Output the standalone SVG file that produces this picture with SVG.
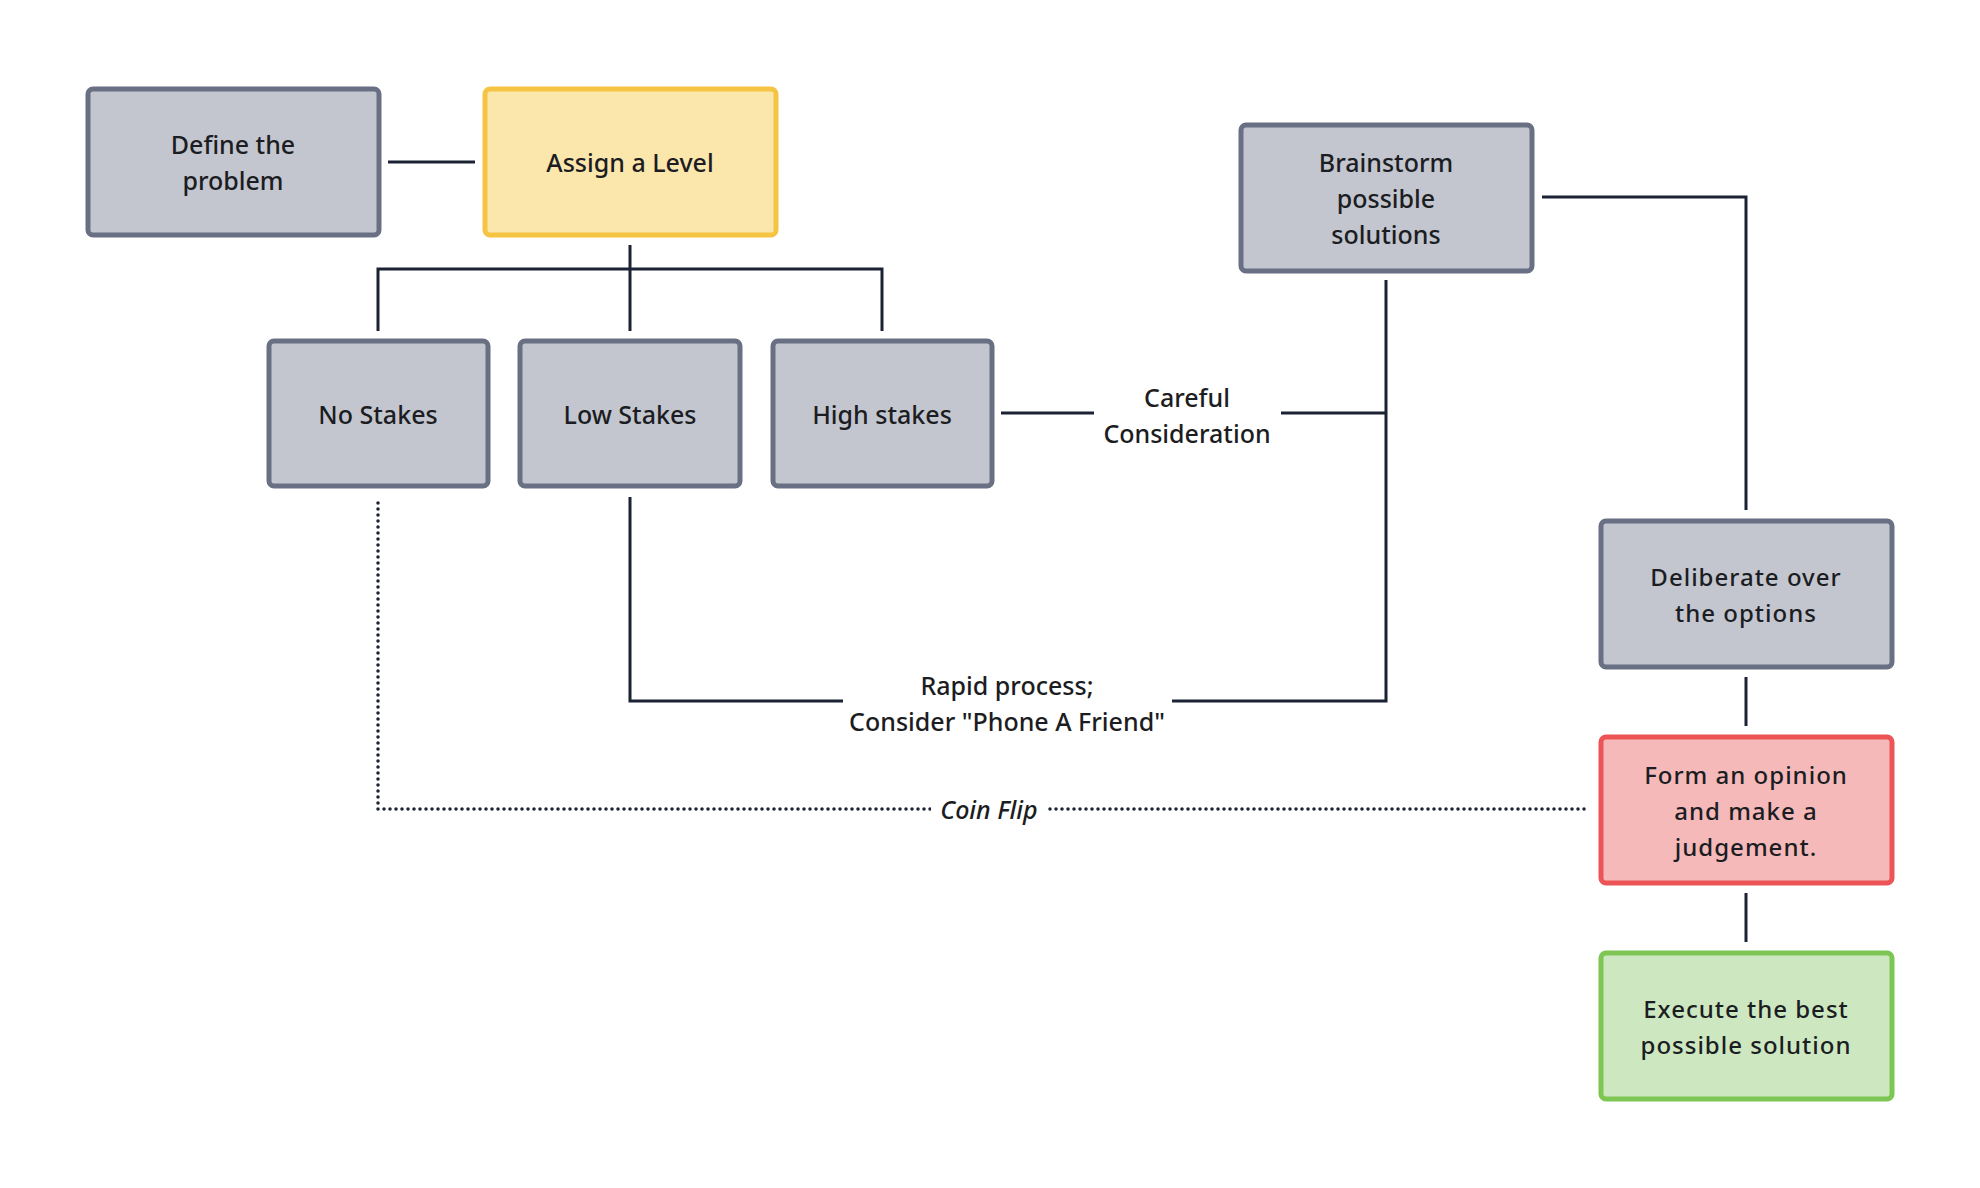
<svg xmlns="http://www.w3.org/2000/svg" width="1980" height="1188" viewBox="0 0 1980 1188">
<style>
.box{stroke-width:5}
.gray{fill:#c3c6cf;stroke:#6a7084}
.yellow{fill:#fbe6ac;stroke:#f6c443}
.red{fill:#f5b9ba;stroke:#ec5456}
.green{fill:#cde8c1;stroke:#7dc653}
.t{font-family:"Noto Sans","Open Sans",sans-serif;font-size:25px;font-weight:500;fill:#1b1d22;text-anchor:middle}
.t2{font-family:"Noto Sans","Open Sans",sans-serif;font-size:24px;font-weight:500;letter-spacing:1px;fill:#1b1d22;text-anchor:middle}
.c{fill:none;stroke:#1a2233;stroke-width:3}
.d{fill:none;stroke:#1a2233;stroke-width:3.5;stroke-dasharray:0 6;stroke-linecap:round}
.lbl{fill:#ffffff}
</style>
<rect width="1980" height="1188" fill="#ffffff"/>
<g id="connectors">
<path class="c" d="M388 162 H475"/>
<path class="c" d="M630 245 V331 M378 331 V269 H882 V331"/>
<path class="c" d="M1001 413 H1386"/>
<path class="c" d="M1386 280 V701 H630 V497"/>
<path class="c" d="M1542 197 H1746 V510"/>
<path class="c" d="M1746 677 V726"/>
<path class="c" d="M1746 893 V942"/>
<path class="d" d="M378 503 V809 H1586"/>
<g id="label-careful">
<rect class="lbl" x="1094" y="376" width="187" height="76"/>
<text class="t" x="1187" y="407">Careful</text>
<text class="t" x="1187" y="443">Consideration</text>
</g>
<g id="label-rapid">
<rect class="lbl" x="843" y="664" width="329" height="76"/>
<text class="t" x="1007" y="695">Rapid process;</text>
<text class="t" x="1007" y="731">Consider "Phone A Friend"</text>
</g>
<g id="label-coin">
<rect class="lbl" x="931" y="790" width="117" height="38"/>
<text class="t" x="989" y="819" font-style="italic">Coin Flip</text>
</g>
</g>
<g id="define">
<rect class="box gray" x="88" y="89" width="291" height="146" rx="5"/>
<text class="t" x="233" y="154">Define the</text>
<text class="t" x="233" y="190">problem</text>
</g>
<g id="assign">
<rect class="box yellow" x="485" y="89" width="291" height="146" rx="5"/>
<text class="t" x="630" y="172">Assign a Level</text>
</g>
<g id="nostakes">
<rect class="box gray" x="269" y="341" width="219" height="145" rx="5"/>
<text class="t" x="378" y="424">No Stakes</text>
</g>
<g id="lowstakes">
<rect class="box gray" x="520" y="341" width="220" height="145" rx="5"/>
<text class="t" x="630" y="424">Low Stakes</text>
</g>
<g id="highstakes">
<rect class="box gray" x="773" y="341" width="219" height="145" rx="5"/>
<text class="t" x="882" y="424">High stakes</text>
</g>
<g id="brainstorm">
<rect class="box gray" x="1241" y="125" width="291" height="146" rx="5"/>
<text class="t" x="1386" y="172">Brainstorm</text>
<text class="t" x="1386" y="208">possible</text>
<text class="t" x="1386" y="244">solutions</text>
</g>
<g id="deliberate">
<rect class="box gray" x="1601" y="521" width="291" height="146" rx="5"/>
<text class="t2" x="1746" y="586">Deliberate over</text>
<text class="t2" x="1746" y="622">the options</text>
</g>
<g id="form">
<rect class="box red" x="1601" y="737" width="291" height="146" rx="5"/>
<text class="t2" x="1746" y="784">Form an opinion</text>
<text class="t2" x="1746" y="820">and make a</text>
<text class="t2" x="1746" y="856">judgement.</text>
</g>
<g id="execute">
<rect class="box green" x="1601" y="953" width="291" height="146" rx="5"/>
<text class="t2" x="1746" y="1018">Execute the best</text>
<text class="t2" x="1746" y="1054">possible solution</text>
</g>
</svg>
